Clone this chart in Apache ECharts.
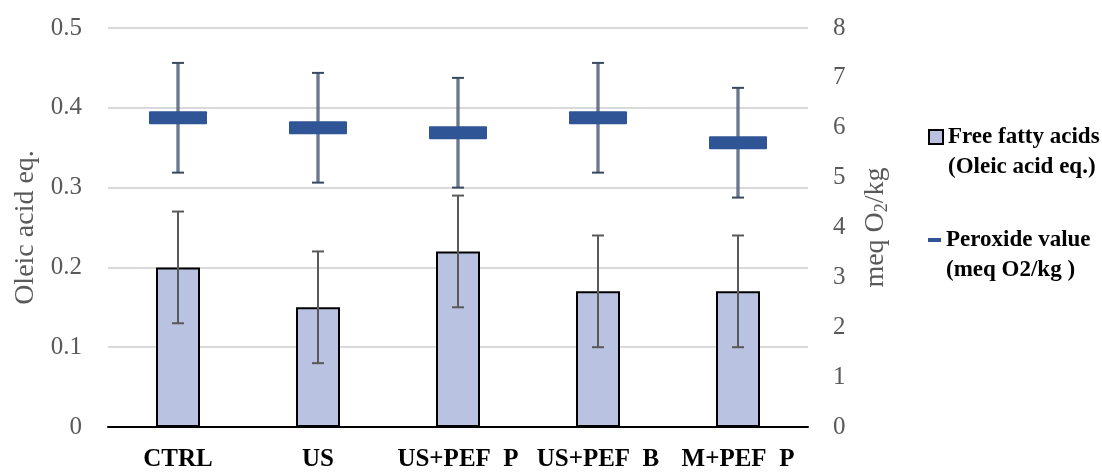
<!DOCTYPE html>
<html>
<head>
<meta charset="utf-8">
<script src="https://cdn.jsdelivr.net/npm/echarts@6/dist/echarts.min.js"></script>
<style>
html,body{margin:0;padding:0;background:#fff;}
#c{width:1102px;height:472px;}
</style>
</head>
<body>
<div id="c"></div>
<script>
const categories = ['CTRL', 'US', 'US+PEF  P', 'US+PEF  B', 'M+PEF  P'];
const ffaValues = [0.20, 0.15, 0.22, 0.17, 0.17];
const ffaErrors = [0.07, 0.07, 0.07, 0.07, 0.07];
const pvValues = [6.2, 6.0, 5.9, 6.2, 5.7];
const pvErrors = [1.1, 1.1, 1.1, 1.1, 1.1];
const leftTicks = [0, 0.1, 0.2, 0.3, 0.4, 0.5];
const rightTicks = [0, 1, 2, 3, 4, 5, 6, 7, 8];
const ffaName = 'Free fatty acids\n(Oleic acid eq.)';
const pvName = 'Peroxide value\n(meq O2/kg )';

const FONT = '"Liberation Serif", "DejaVu Serif", serif';
const chart = echarts.init(document.getElementById('c'), null, {renderer: 'canvas'});

function errRender(color, lightColor) {
  return function (params, api) {
    const x = api.value(0), v = api.value(1), e = api.value(2);
    const top = api.coord([x, v + e]);
    const bot = api.coord([x, v - e]);
    const cap = 6;
    const children = [
      {type: 'line', shape: {x1: top[0], y1: top[1], x2: bot[0], y2: bot[1]}, style: {stroke: color, lineWidth: lightColor ? 3 : 2}},
      {type: 'line', shape: {x1: top[0] - cap, y1: top[1], x2: top[0] + cap, y2: top[1]}, style: {stroke: color, lineWidth: 2}},
      {type: 'line', shape: {x1: bot[0] - cap, y1: bot[1], x2: bot[0] + cap, y2: bot[1]}, style: {stroke: color, lineWidth: 2}}
    ];
    if (lightColor) {
      children.push({type: 'line', shape: {x1: top[0], y1: top[1] + 1, x2: bot[0], y2: bot[1] - 1}, style: {stroke: lightColor, lineWidth: 1}});
    }
    return {type: 'group', children: children};
  };
}

function legendFormatter(name) {
  return '{e| }\n' + name.split('\n').map(s => '{t|' + s + '}').join('\n');
}
const legendText = {
  fontFamily: FONT, fontWeight: 'bold', fontSize: 23, color: '#000', lineHeight: 30,
  rich: {
    e: {fontSize: 23, lineHeight: 30},
    t: {fontFamily: FONT, fontWeight: 'bold', fontSize: 23, color: '#000', lineHeight: 30}
  }
};

const option = {
  animation: false,
  backgroundColor: '#ffffff',
  grid: {left: 108, right: 294, top: 28, bottom: 45, containLabel: false},
  legend: [
    {
      data: [{name: ffaName, icon: 'rect'}],
      left: 928, top: 92, padding: 0, orient: 'vertical',
      itemWidth: 14, itemHeight: 14, itemGap: 5,
      formatter: legendFormatter,
      textStyle: legendText,
      selectedMode: false
    },
    {
      data: [{name: pvName, icon: 'rect'}],
      left: 928, top: 195, padding: 0, orient: 'vertical',
      itemWidth: 13, itemHeight: 4, itemGap: 5,
      formatter: legendFormatter,
      textStyle: legendText,
      selectedMode: false
    }
  ],
  xAxis: {
    type: 'category',
    data: categories,
    boundaryGap: true,
    axisTick: {show: false},
    axisLine: {lineStyle: {color: '#000', width: 2}},
    axisLabel: {fontFamily: FONT, fontWeight: 'bold', fontSize: 25, color: '#000', margin: 20, interval: 0},
    splitLine: {show: false}
  },
  yAxis: [
    {
      type: 'value', min: 0, max: 0.5, interval: 0.1,
      name: 'Oleic acid eq.', nameLocation: 'middle', nameGap: 66, nameRotate: 90,
      nameTextStyle: {fontFamily: FONT, fontSize: 28, color: '#595959'},
      axisLine: {show: false}, axisTick: {show: false},
      axisLabel: {fontFamily: FONT, fontSize: 25, color: '#595959', margin: 26,
        formatter: v => (v === 0 ? '0' : v.toFixed(1))},
      splitLine: {show: true, lineStyle: {color: '#D9D9D9', width: 2}}
    },
    {
      type: 'value', min: 0, max: 8, interval: 1,
      name: '{a|meq O}{s|2}{a|/kg}', nameLocation: 'middle', nameGap: 53, nameRotate: 90,
      nameTextStyle: {fontFamily: FONT, fontSize: 28, color: '#595959',
        rich: {
          a: {fontFamily: FONT, fontSize: 28, color: '#595959'},
          s: {fontFamily: FONT, fontSize: 18, color: '#595959', padding: [12, 0, 0, 0]}
        }},
      axisLine: {show: false}, axisTick: {show: false},
      axisLabel: {fontFamily: FONT, fontSize: 25, color: '#595959', margin: 25},
      splitLine: {show: false}
    }
  ],
  series: [
    {
      name: ffaName,
      type: 'bar',
      yAxisIndex: 0,
      data: ffaValues,
      barWidth: 44,
      itemStyle: {color: '#B9C3E1', borderColor: '#000', borderWidth: 2},
      z: 2
    },
    {
      name: 'ffaErr',
      type: 'custom',
      yAxisIndex: 0,
      data: ffaValues.map((v, i) => [i, v, ffaErrors[i]]),
      renderItem: errRender('#595959', null),
      z: 3,
      silent: true
    },
    {
      name: 'pvErr',
      type: 'custom',
      yAxisIndex: 1,
      data: pvValues.map((v, i) => [i, v, pvErrors[i]]),
      renderItem: errRender('#3A4960', '#9AAAC6'),
      z: 4,
      silent: true
    },
    {
      name: pvName,
      type: 'custom',
      yAxisIndex: 1,
      data: pvValues.map((v, i) => [i, v]),
      itemStyle: {color: '#2F5597'},
      renderItem: function (params, api) {
        const p = api.coord([api.value(0), api.value(1)]);
        const w = 58, h = 13;
        return {type: 'rect', shape: {x: p[0] - w / 2, y: p[1] - h / 2, width: w, height: h, r: 1},
          style: {fill: '#2F5597'}};
      },
      z: 5
    }
  ]
};
chart.setOption(option);
</script>
</body>
</html>
